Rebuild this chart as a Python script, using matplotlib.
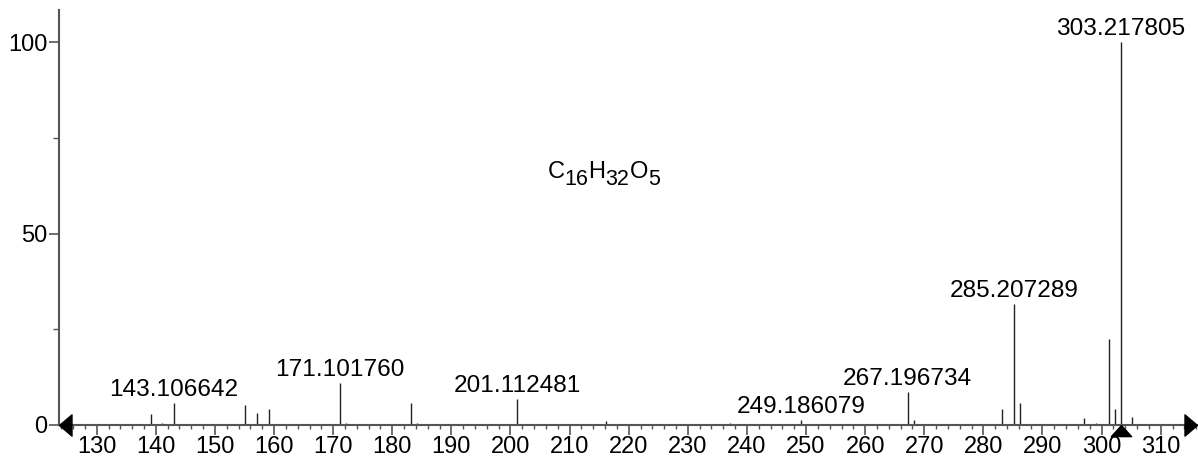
import numpy as np
import matplotlib.pyplot as plt
from matplotlib.ticker import MultipleLocator

plt.rcParams['font.family'] = ['Liberation Sans', 'DejaVu Sans']

# peak list (m/z, relative intensity)
mz = [137.6, 139.1, 141.0, 143.106642, 144.1, 147.0, 155.1, 157.1, 159.1,
      165.0, 171.101760, 172.1, 183.1, 184.1, 201.112481, 203.0, 216.1,
      227.0, 237.2, 238.0, 249.186079, 257.1, 267.196734, 268.2, 283.2,
      285.207289, 286.2, 297.0, 299.0, 301.2, 302.2, 303.217805, 305.1]
intensity = [0.3, 2.8, 0.6, 5.7, 0.3, 0.2, 5.3, 3.2, 4.3,
             0.2, 10.9, 0.6, 5.8, 0.4, 6.7, 0.3, 1.1,
             0.2, 0.4, 0.3, 1.3, 0.3, 8.7, 1.2, 4.3,
             31.5, 5.7, 1.8, 0.5, 22.4, 4.1, 100.0, 2.2]
labeled_mz = [143.106642, 171.101760, 201.112481, 249.186079,
              267.196734, 285.207289, 303.217805]
precursor_mz = 303.217805
formula_parts = [('C', '16'), ('H', '32'), ('O', '5')]

axis_col = '#555555'

fig = plt.figure(figsize=(11.98, 4.61), dpi=100)
ax = fig.add_axes([59 / 1198, 0, 1139 / 1198, 1])
ax.set_xlim(123.62, 316.31)
ax.set_ylim(-9.4, 110.97)
ax.patch.set_visible(False)

ax.vlines(mz, 0, intensity, color='#222222', lw=1.0)

for m in labeled_mz:
    h = intensity[mz.index(m)]
    ax.annotate(f'{m:.6f}', xy=(m, h), xytext=(0, 1.5), textcoords='offset points',
                ha='center', va='bottom', fontsize=17.6)

# spines / axes
for s in ['top', 'right']:
    ax.spines[s].set_visible(False)
ax.spines['bottom'].set_position(('data', 0))
ax.spines['bottom'].set_bounds(123.62, 316.1)
ax.spines['left'].set_bounds(0, 108.4)
for s in ['bottom', 'left']:
    ax.spines[s].set_color(axis_col)
    ax.spines[s].set_linewidth(1.5)

ax.xaxis.set_minor_locator(MultipleLocator(2))
ax.set_xticks(np.arange(130, 311, 10))
ax.yaxis.set_minor_locator(MultipleLocator(25))
ax.set_yticks([0, 50, 100])
ax.tick_params(axis='x', which='major', length=7, width=1.2, color=axis_col,
               labelsize=17, pad=1)
ax.tick_params(axis='x', which='minor', length=3, width=1.0, color=axis_col)
ax.tick_params(axis='y', which='major', length=7, width=1.2, color=axis_col,
               labelsize=17, pad=1.5)
ax.tick_params(axis='y', which='minor', length=4.3, width=1.0, color=axis_col)

# arrow heads on the x axis and precursor marker
left_arrow = [(0, 0), (1, 0.85), (1, -0.85), (0, 0)]
right_arrow = [(0, 0), (-1, 0.85), (-1, -0.85), (0, 0)]
ax.plot([123.62], [0], marker=left_arrow, markersize=18, color='black',
        clip_on=False, linestyle='none', zorder=5)
ax.plot([316.14], [0], marker=right_arrow, markersize=18, color='black',
        clip_on=False, linestyle='none', zorder=5)
up_tri = [(0, 0), (-0.909, -1), (0.909, -1), (0, 0)]
ax.plot([precursor_mz], [0], marker=up_tri, markersize=16, color='black',
        clip_on=False, linestyle='none', zorder=5)

# molecular formula with subscripts
prev = ax.text(206.3, 64.5, formula_parts[0][0], fontsize=17, ha='left', va='baseline')
for i, (el, n) in enumerate(formula_parts):
    if i > 0:
        prev = ax.annotate(el, xy=(1, 0), xycoords=prev, xytext=(0, 5),
                           textcoords='offset points', fontsize=17,
                           ha='left', va='bottom')
    prev = ax.annotate(n, xy=(1, 0), xycoords=prev, xytext=(0, -5),
                       textcoords='offset points', fontsize=15.5,
                       ha='left', va='bottom')

fig.savefig('out.png', dpi=100)
